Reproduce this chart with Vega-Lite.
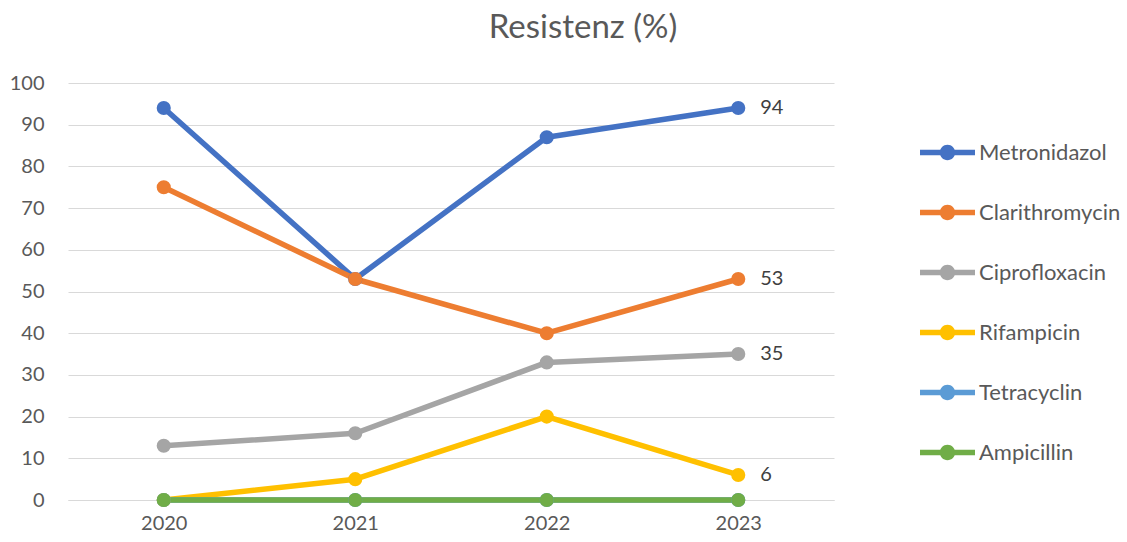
{
  "$schema": "https://vega.github.io/schema/vega-lite/v6.json",
  "width": 766,
  "height": 417,
  "autosize": {"type": "none"},
  "padding": {"left": 68, "top": 83, "right": 293, "bottom": 42},
  "background": "white",
  "config": {
    "view": {"stroke": null},
    "font": "Lato"
  },
  "title": {
    "text": "Resistenz (%)",
    "font": "Lato",
    "fontSize": 33,
    "fontWeight": "normal",
    "color": "#595959",
    "anchor": "middle",
    "frame": "group",
    "dx": 132,
    "offset": 28
  },
  "data": {
    "values": [
      {"year": "2020", "drug": "Metronidazol", "value": 94},
      {"year": "2021", "drug": "Metronidazol", "value": 53},
      {"year": "2022", "drug": "Metronidazol", "value": 87},
      {"year": "2023", "drug": "Metronidazol", "value": 94},
      {"year": "2020", "drug": "Clarithromycin", "value": 75},
      {"year": "2021", "drug": "Clarithromycin", "value": 53},
      {"year": "2022", "drug": "Clarithromycin", "value": 40},
      {"year": "2023", "drug": "Clarithromycin", "value": 53},
      {"year": "2020", "drug": "Ciprofloxacin", "value": 13},
      {"year": "2021", "drug": "Ciprofloxacin", "value": 16},
      {"year": "2022", "drug": "Ciprofloxacin", "value": 33},
      {"year": "2023", "drug": "Ciprofloxacin", "value": 35},
      {"year": "2020", "drug": "Rifampicin", "value": 0},
      {"year": "2021", "drug": "Rifampicin", "value": 5},
      {"year": "2022", "drug": "Rifampicin", "value": 20},
      {"year": "2023", "drug": "Rifampicin", "value": 6},
      {"year": "2020", "drug": "Tetracyclin", "value": 0},
      {"year": "2021", "drug": "Tetracyclin", "value": 0},
      {"year": "2022", "drug": "Tetracyclin", "value": 0},
      {"year": "2023", "drug": "Tetracyclin", "value": 0},
      {"year": "2020", "drug": "Ampicillin", "value": 0},
      {"year": "2021", "drug": "Ampicillin", "value": 0},
      {"year": "2022", "drug": "Ampicillin", "value": 0},
      {"year": "2023", "drug": "Ampicillin", "value": 0}
    ]
  },
  "encoding": {
    "x": {
      "field": "year",
      "type": "ordinal",
      "scale": {"type": "point", "padding": 0.5},
      "axis": {
        "title": null,
        "labelAngle": 0,
        "labelFont": "Lato",
        "labelFontSize": 20,
        "labelColor": "#595959",
        "labelPadding": 13,
        "ticks": false,
        "domain": true,
        "domainColor": "#D9D9D9",
        "domainWidth": 1,
        "grid": false
      }
    },
    "y": {
      "field": "value",
      "type": "quantitative",
      "scale": {"domain": [0, 100], "nice": false},
      "axis": {
        "title": null,
        "values": [0, 10, 20, 30, 40, 50, 60, 70, 80, 90, 100],
        "labelFont": "Lato",
        "labelFontSize": 20,
        "labelColor": "#595959",
        "labelPadding": 24,
        "ticks": false,
        "domain": false,
        "grid": true,
        "gridColor": "#D9D9D9",
        "gridWidth": 1
      }
    },
    "color": {
      "field": "drug",
      "type": "nominal",
      "sort": ["Metronidazol", "Clarithromycin", "Ciprofloxacin", "Rifampicin", "Tetracyclin", "Ampicillin"],
      "scale": {
        "domain": ["Metronidazol", "Clarithromycin", "Ciprofloxacin", "Rifampicin", "Tetracyclin", "Ampicillin"],
        "range": ["#4472C4", "#ED7D31", "#A5A5A5", "#FFC000", "#5B9BD5", "#70AD47"]
      },
      "legend": {
        "title": null,
        "orient": "none",
        "legendX": 852,
        "legendY": 42,
        "padding": 0,
        "symbolType": "M-1,-0.1H1V0.1H-1Z M0.28,0A0.28,0.28 0 1,1 -0.28,0A0.28,0.28 0 1,1 0.28,0Z",
        "symbolSize": 3025,
        "symbolStrokeWidth": 0,
        "labelFont": "Lato",
        "labelFontSize": 22,
        "labelColor": "#595959",
        "labelOffset": 4,
        "rowPadding": 21,
        "encode": {
          "symbols": {
            "update": {
              "fill": {"scale": "color", "field": "value"},
              "stroke": {"value": "transparent"},
              "strokeWidth": {"value": 0},
              "opacity": {"value": 1}
            }
          }
        }
      }
    }
  },
  "layer": [
    {
      "mark": {"type": "line", "strokeWidth": 5.5, "strokeCap": "round", "strokeJoin": "round"}
    },
    {
      "mark": {"type": "point", "filled": true, "size": 200, "opacity": 1, "shape": "circle"}
    },
    {
      "transform": [{"filter": "datum.year == '2023' && datum.value > 0"}],
      "mark": {"type": "text", "align": "left", "baseline": "middle", "dx": 22, "font": "Lato", "fontSize": 20, "color": "#404040"},
      "encoding": {
        "text": {"field": "value", "type": "quantitative"},
        "color": {"value": "#404040"}
      }
    }
  ]
}
